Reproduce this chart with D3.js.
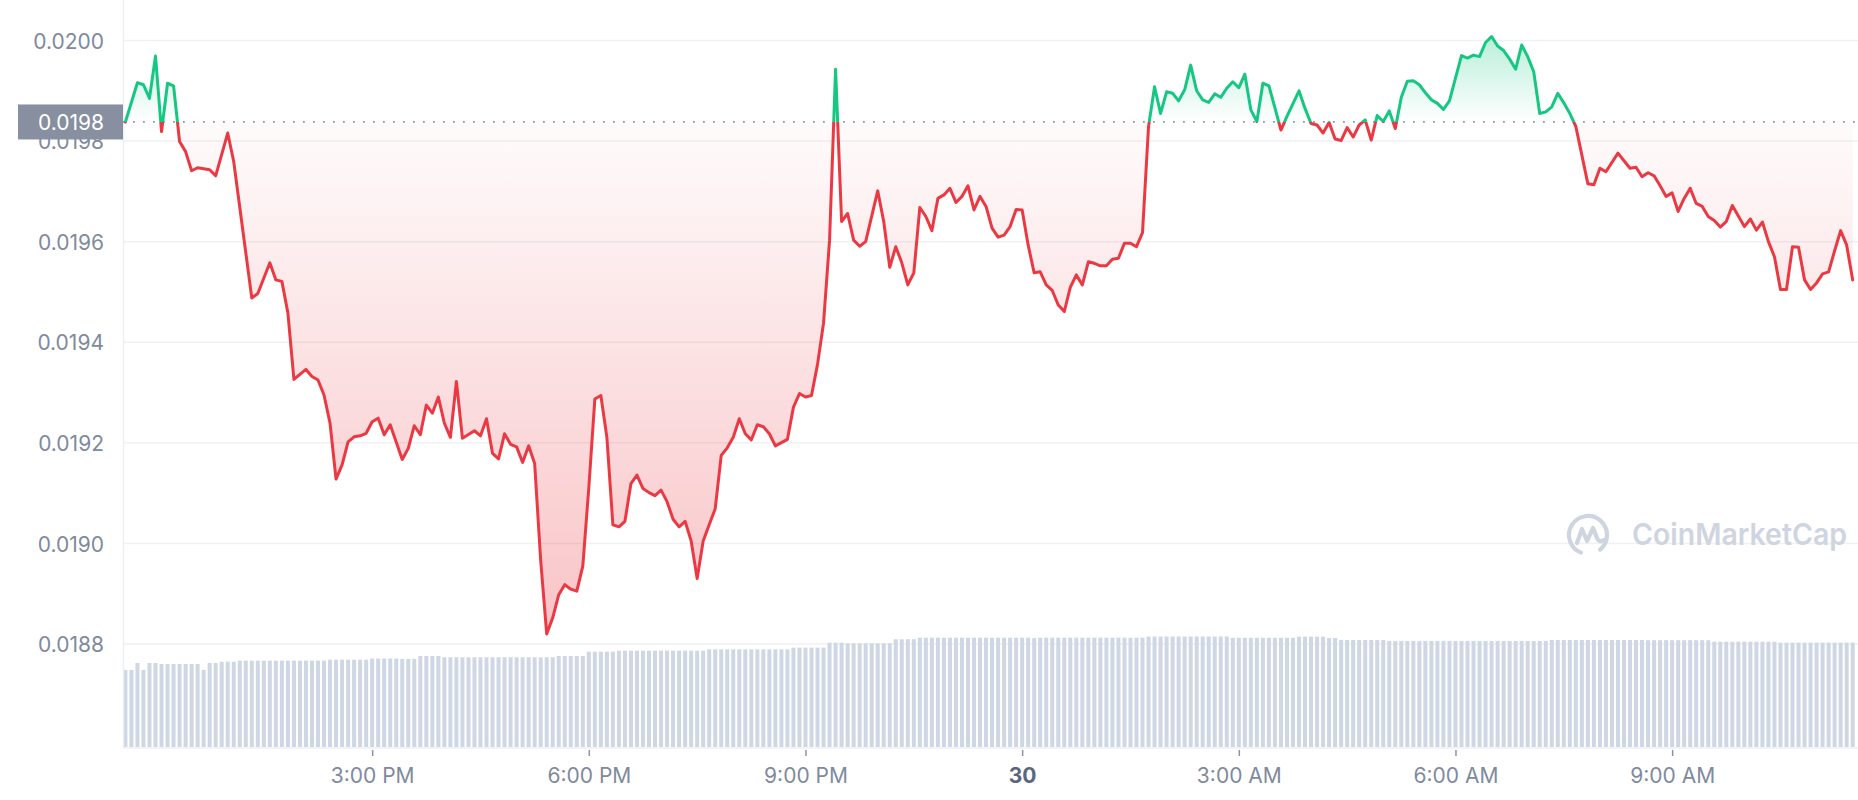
<!DOCTYPE html>
<html>
<head>
<meta charset="utf-8">
<script src="https://cdn.jsdelivr.net/npm/d3@7"></script>
<style>
  html, body { margin: 0; padding: 0; background: #ffffff; }
  svg { display: block; font-family: Inter, "Noto Sans", "Liberation Sans", sans-serif; }
</style>
</head>
<body>
<svg id="chart" width="1858" height="800"></svg>
<script>
// ---------------- DATA ----------------
const firstSlotTime = "2023-09-29T11:35:00";   // time of 5-minute slot 0
const slotMinutes = 5;
const domainStart = "2023-09-29T11:33:00";
const domainEnd   = "2023-09-30T11:33:00";

// price points: 5-minute slot index and price (USD)
const priceSlots = [
  0,2,3,4,5,6,7,8,9,10,
  11,12,14,15,17,18,21,22,24,25,
  26,27,28,30,31,32,33,34,35,36,
  37,38,39,40,41,42,43,44,46,47,
  48,49,50,51,52,53,54,55,56,58,
  59,60,61,62,63,64,65,66,67,68,
  69,70,71,72,73,74,75,76,77,78,
  79,80,81,82,83,84,85,86,87,88,
  89,90,91,92,93,94,95,96,97,98,
  99,100,101,102,103,104,105,106,107,108,
  110,111,112,113,114,115,116,117,118,119,
  120,121,122,123,125,126,127,128,129,130,
  131,132,133,134,135,136,137,138,139,140,
  141,142,143,144,145,146,147,148,149,150,
  151,152,153,154,155,156,157,158,159,160,
  161,162,163,164,165,166,167,168,169,170,
  171,172,173,174,175,176,177,178,179,180,
  181,182,183,184,185,186,187,188,189,190,
  192,193,195,196,197,198,199,200,201,202,
  203,204,205,206,207,208,209,210,211,212,
  213,214,215,216,217,218,219,220,221,222,
  223,224,225,226,227,228,229,230,231,232,
  233,234,235,236,237,238,239,240,241,242,
  243,244,245,246,248,249,250,251,252,253,
  254,255,256,257,258,259,260,261,262,263,
  264,265,266,267,268,269,270,271,272,273,
  274,275,276,277,278,279,280,281,282,283,
  284,285,286,287
];
const prices = [
  0.019838,0.019916,0.019912,0.019885,0.019969,0.019819,0.019915,0.019910,0.019799,0.019779,
  0.019741,0.019747,0.019743,0.019731,0.019816,0.019759,0.019488,0.019497,0.019558,0.019524,
  0.019521,0.019458,0.019326,0.019346,0.019332,0.019325,0.019295,0.019239,0.019128,0.019156,
  0.019202,0.019212,0.019214,0.019219,0.019242,0.019249,0.019216,0.019236,0.019167,0.019189,
  0.019234,0.019216,0.019275,0.019259,0.019291,0.019239,0.019211,0.019322,0.019209,0.019224,
  0.019214,0.019248,0.019179,0.019168,0.019218,0.019197,0.019192,0.019161,0.019194,0.019159,
  0.018966,0.018820,0.018852,0.018898,0.018918,0.018909,0.018905,0.018955,0.019111,0.019287,
  0.019294,0.019211,0.019037,0.019033,0.019044,0.019119,0.019136,0.019109,0.019101,0.019095,
  0.019106,0.019083,0.019048,0.019033,0.019044,0.019005,0.018930,0.019005,0.019037,0.019069,
  0.019175,0.019190,0.019211,0.019248,0.019218,0.019206,0.019236,0.019232,0.019218,0.019194,
  0.019207,0.019271,0.019298,0.019291,0.019294,0.019356,0.019438,0.019603,0.019943,0.019640,
  0.019656,0.019603,0.019591,0.019600,0.019701,0.019640,0.019549,0.019590,0.019558,0.019514,
  0.019538,0.019668,0.019650,0.019622,0.019686,0.019693,0.019706,0.019678,0.019690,0.019711,
  0.019663,0.019690,0.019670,0.019627,0.019609,0.019613,0.019630,0.019664,0.019663,0.019593,
  0.019538,0.019540,0.019514,0.019503,0.019474,0.019461,0.019509,0.019534,0.019514,0.019560,
  0.019557,0.019552,0.019552,0.019565,0.019567,0.019597,0.019597,0.019590,0.019618,0.019829,
  0.019908,0.019855,0.019898,0.019895,0.019880,0.019902,0.019951,0.019900,0.019882,0.019877,
  0.019894,0.019887,0.019905,0.019918,0.019906,0.019933,0.019862,0.019839,0.019915,0.019910,
  0.019822,0.019849,0.019900,0.019865,0.019835,0.019832,0.019816,0.019837,0.019804,0.019801,
  0.019827,0.019808,0.019832,0.019842,0.019802,0.019851,0.019839,0.019860,0.019825,0.019887,
  0.019919,0.019920,0.019912,0.019896,0.019882,0.019875,0.019863,0.019880,0.019925,0.019970,
  0.019965,0.019971,0.019968,0.019996,0.020008,0.019989,0.019980,0.019963,0.019943,0.019991,
  0.019968,0.019938,0.019855,0.019858,0.019868,0.019895,0.019876,0.019855,0.019829,0.019772,
  0.019715,0.019713,0.019746,0.019739,0.019776,0.019761,0.019746,0.019748,0.019729,0.019737,
  0.019731,0.019711,0.019690,0.019697,0.019660,0.019686,0.019706,0.019676,0.019670,0.019650,
  0.019642,0.019629,0.019640,0.019672,0.019651,0.019630,0.019645,0.019623,0.019639,0.019600,
  0.019570,0.019505,0.019505,0.019590,0.019589,0.019524,0.019505,0.019518,0.019536,0.019540,
  0.019582,0.019622,0.019593,0.019524
];

// volume bars, one per 5-minute slot (relative units)
const volumes = [
  7.28,7.28,7.94,7.28,7.94,7.94,
  7.84,7.84,7.84,7.84,7.84,7.84,7.84,
  7.28,
  7.94,7.94,
  8.06,8.06,8.06,
  8.16,8.16,8.16,8.16,8.16,8.16,8.16,8.16,8.16,8.16,8.16,8.16,8.16,8.16,8.16,
  8.25,8.25,8.25,8.25,8.25,8.25,8.25,
  8.36,8.36,8.36,8.36,8.36,
  8.33,8.33,8.33,
  8.60,8.60,8.60,8.60,
  8.48,8.48,8.48,8.48,8.48,8.48,8.48,8.48,8.48,8.48,8.48,8.48,8.48,8.48,8.48,8.48,8.48,8.48,8.48,
  8.60,8.60,8.60,8.60,8.60,
  9.01,9.01,9.01,9.01,9.01,
  9.10,9.10,9.10,9.10,9.10,9.10,9.10,9.10,9.10,9.10,9.10,9.10,9.10,9.10,9.10,
  9.23,9.23,9.23,9.23,9.23,9.23,9.23,9.23,9.23,9.23,9.23,9.23,9.23,9.23,
  9.39,9.39,9.39,9.39,9.39,9.39,
  9.86,9.86,9.86,
  9.80,9.80,9.80,9.80,9.80,9.80,9.80,9.80,
  10.18,10.18,10.18,10.18,
  10.33,10.33,10.33,10.33,10.33,10.33,10.33,10.33,10.33,10.33,10.33,10.33,10.33,10.33,10.33,10.33,10.33,10.33,10.33,
  10.28,
  10.33,10.33,10.33,10.33,10.33,10.33,10.33,10.33,10.33,10.33,10.33,10.33,10.33,10.33,10.33,10.33,10.33,10.33,
  10.44,10.44,10.44,10.44,10.44,10.44,10.44,10.44,10.44,10.44,10.44,10.44,10.44,10.44,
  10.32,10.32,10.32,10.32,10.32,10.32,10.32,10.32,10.32,10.32,10.32,
  10.43,10.43,10.43,10.43,10.43,
  10.30,10.30,
  10.11,10.11,10.11,10.11,10.11,10.11,10.11,10.11,
  10.02,10.02,10.02,10.02,10.02,10.02,10.02,10.02,10.02,10.02,10.02,10.02,10.02,10.02,10.02,10.02,10.02,10.02,10.02,10.02,10.02,10.02,10.02,10.02,10.02,10.02,10.02,
  10.11,10.11,10.11,10.11,10.11,10.11,10.11,10.11,10.11,10.11,10.11,10.11,10.11,10.11,10.11,10.11,
  10.09,10.09,10.09,10.09,10.09,10.09,10.09,10.09,10.09,10.09,10.09,
  9.95,9.95,9.95,9.95,9.95,9.95,9.95,9.95,9.95,9.95,9.95,
  9.86,9.86,9.86,9.86,9.86,9.86,9.86,9.86,9.86,9.86,9.86,9.86,9.86
];

const yTicks = [0.0188, 0.0190, 0.0192, 0.0194, 0.0196, 0.0198, 0.0200];
const xTickTimes = ["2023-09-29T15:00:00","2023-09-29T18:00:00","2023-09-29T21:00:00",
                    "2023-09-30T00:00:00","2023-09-30T03:00:00","2023-09-30T06:00:00","2023-09-30T09:00:00"];
const xTickLabels = ["3:00 PM","6:00 PM","9:00 PM","30","3:00 AM","6:00 AM","9:00 AM"];
const watermarkText = "CoinMarketCap";

// ---------------- CHART ----------------
const W = 1858, H = 800;
const plotL = 123, plotR = 1858, plotB = 747;
const svg = d3.select("#chart");

const t0 = new Date(firstSlotTime);
const slotTime = k => new Date(t0.getTime() + k * slotMinutes * 60000);

const x = d3.scaleTime().domain([new Date(domainStart), new Date(domainEnd)]).range([123, 1856.3]);
const y = d3.scaleLinear().domain([0.0188, 0.0200]).range([644, 40.5]);
const yVol = d3.scaleLinear().domain([0, 12]).range([plotB, 620]);

const pts = priceSlots.map((k, i) => ({ t: slotTime(k), p: prices[i] }));
const refPrice = prices[0];
const by = y(refPrice);

const GREEN = "#16c784", RED = "#ea3943";
const defs = svg.append("defs");

// gradients
const gG = defs.append("linearGradient").attr("id", "gGreen").attr("gradientUnits", "userSpaceOnUse")
  .attr("x1", 0).attr("x2", 0).attr("y1", by).attr("y2", y(d3.max(prices)));
gG.append("stop").attr("offset", 0).attr("stop-color", GREEN).attr("stop-opacity", 0.0);
gG.append("stop").attr("offset", 1).attr("stop-color", GREEN).attr("stop-opacity", 0.3);
const gR = defs.append("linearGradient").attr("id", "gRed").attr("gradientUnits", "userSpaceOnUse")
  .attr("x1", 0).attr("x2", 0).attr("y1", by).attr("y2", y(d3.min(prices)));
gR.append("stop").attr("offset", 0).attr("stop-color", RED).attr("stop-opacity", 0.02);
gR.append("stop").attr("offset", 1).attr("stop-color", RED).attr("stop-opacity", 0.3);

// clips
defs.append("clipPath").attr("id", "clipUp").append("rect")
  .attr("x", 0).attr("y", 0).attr("width", W).attr("height", by);
defs.append("clipPath").attr("id", "clipDown").append("rect")
  .attr("x", 0).attr("y", by).attr("width", W).attr("height", H - by);

// gridlines
svg.append("g").selectAll("line").data(yTicks).join("line")
  .attr("x1", plotL).attr("x2", plotR)
  .attr("y1", d => y(d)).attr("y2", d => y(d))
  .attr("stroke", "#eff1f4").attr("stroke-width", 1.5);

// volume bars
svg.append("g").selectAll("rect").data(volumes).join("rect")
  .attr("x", (d, i) => x(slotTime(i)) - 2)
  .attr("width", 4)
  .attr("y", d => yVol(d))
  .attr("height", d => plotB - yVol(d))
  .attr("fill", "#cfd6e4");

// axis frame lines
svg.append("line").attr("x1", plotL + 0.5).attr("x2", plotL + 0.5).attr("y1", 0).attr("y2", plotB + 1)
  .attr("stroke", "#eceff3").attr("stroke-width", 1.5);
svg.append("line").attr("x1", plotL).attr("x2", plotR).attr("y1", plotB + 1).attr("y2", plotB + 1)
  .attr("stroke", "#eceff3").attr("stroke-width", 1.5);

// watermark
const wm = svg.append("g").attr("transform", "translate(1588,535)").attr("fill", "none")
  .attr("stroke", "#cfd5e0").attr("stroke-width", 4.2).attr("stroke-linecap", "round").attr("stroke-linejoin", "round");
wm.append("path").attr("d", (() => {
  const p = d3.path(); p.arc(0, 0, 19, Math.PI * 0.62, Math.PI * 2.28, false); return p.toString();
})());
wm.append("path").attr("d", "M-11,8 L-6,-6 L-1,6 L5,-7 L9,3 Q11,8 16,5");
svg.append("text").attr("x", 1632).attr("y", 545)
  .attr("font-size", 30).attr("font-weight", 600).attr("fill", "#cfd5e0")
  .attr("textLength", 215).attr("lengthAdjust", "spacingAndGlyphs")
  .text(watermarkText);

// areas
const area = d3.area().x(d => x(d.t)).y0(by).y1(d => y(d.p));
svg.append("path").datum(pts).attr("d", area).attr("fill", "url(#gGreen)").attr("clip-path", "url(#clipUp)");
svg.append("path").datum(pts).attr("d", area).attr("fill", "url(#gRed)").attr("clip-path", "url(#clipDown)");

// reference dotted line
svg.append("line").attr("x1", plotL).attr("x2", plotR).attr("y1", by).attr("y2", by)
  .attr("stroke", "#8e96a4").attr("stroke-width", 1.8).attr("stroke-dasharray", "1.8 8.2");

// lines
const line = d3.line().x(d => x(d.t)).y(d => y(d.p));
svg.append("path").datum(pts).attr("d", line).attr("fill", "none").attr("stroke", GREEN)
  .attr("stroke-width", 3).attr("stroke-linejoin", "round").attr("stroke-linecap", "round").attr("clip-path", "url(#clipUp)");
svg.append("path").datum(pts).attr("d", line).attr("fill", "none").attr("stroke", RED)
  .attr("stroke-width", 3).attr("stroke-linejoin", "round").attr("stroke-linecap", "round").attr("clip-path", "url(#clipDown)");

// y axis labels
const yAxis = d3.axisLeft(y).tickValues(yTicks).tickFormat(d3.format(".4f")).tickSize(0).tickPadding(19);
const ya = svg.append("g").attr("transform", `translate(${plotL},0)`).call(yAxis);
ya.select(".domain").remove();
ya.selectAll("text").attr("font-family", "Inter, 'Noto Sans', sans-serif").attr("font-size", 21)
  .attr("fill", "#808a9d").attr("dy", null).attr("dominant-baseline", null)
  .attr("y", 7.7);

// x axis
const xTimes = xTickTimes.map(s => new Date(s));
const xAxis = d3.axisBottom(x).tickValues(xTimes).tickFormat((d, i) => xTickLabels[i]).tickSize(6).tickPadding(0);
const xa = svg.append("g").attr("transform", `translate(0,${plotB + 3})`).call(xAxis);
xa.select(".domain").remove();
xa.selectAll(".tick line").attr("stroke", "#8a93a5").attr("stroke-width", 1.5);
xa.selectAll("text").attr("font-family", "Inter, 'Noto Sans', sans-serif").attr("font-size", 21)
  .attr("dy", null).attr("y", 33)
  .attr("font-weight", (d, i) => xTickLabels[i] === "30" ? 700 : 400)
  .attr("fill", (d, i) => xTickLabels[i] === "30" ? "#58667e" : "#808a9d");

// current/reference price box (drawn over the partially hidden 0.0198 tick label, as in the reference)
svg.append("rect").attr("x", 18).attr("y", by - 17.5).attr("width", plotL - 18).attr("height", 35)
  .attr("fill", "#878fa1");
svg.append("text").attr("x", 104).attr("y", by + 7.7).attr("text-anchor", "end")
  .attr("font-size", 21).attr("fill", "#ffffff")
  .text(d3.format(".4f")(refPrice));
</script>
</body>
</html>
